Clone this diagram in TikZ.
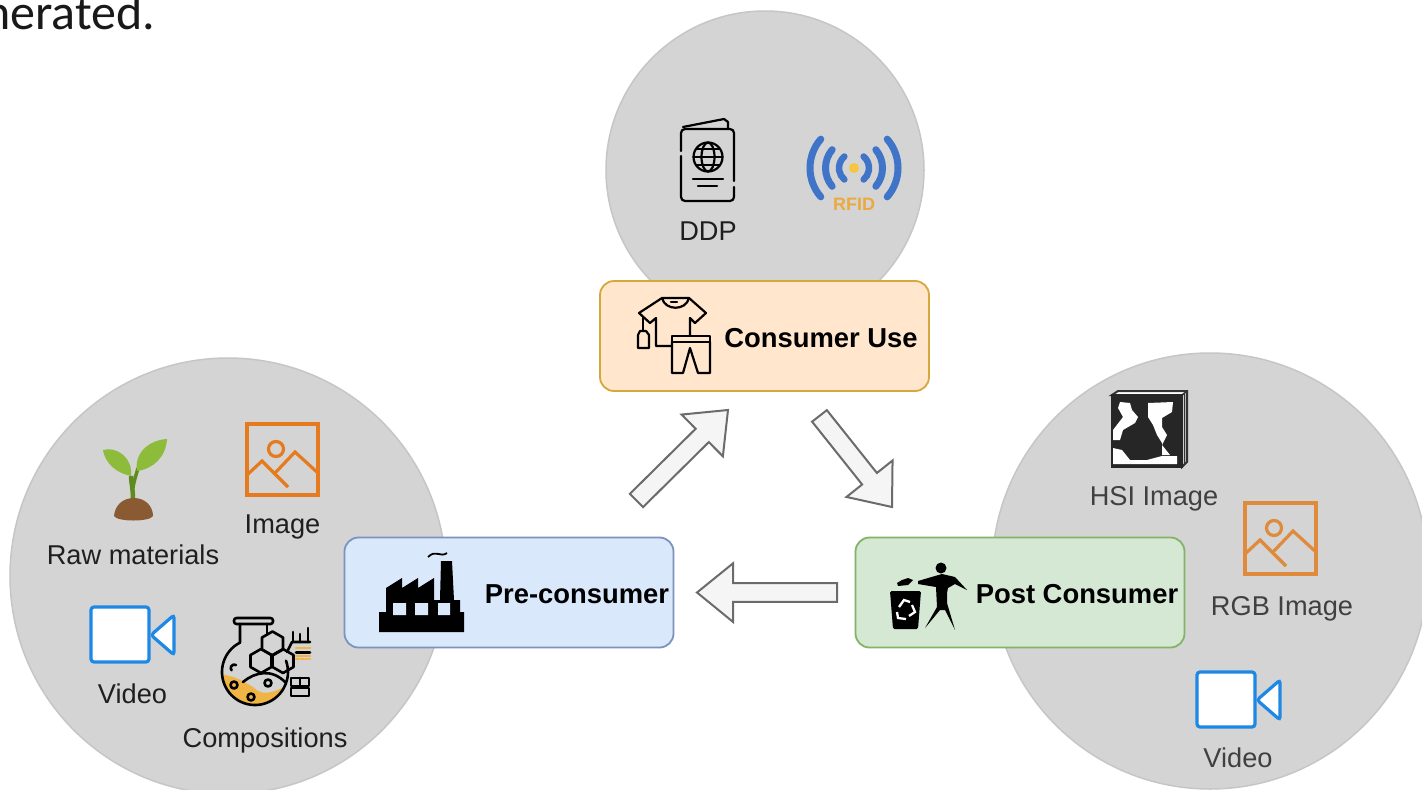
\documentclass[tikz,border=0pt]{standalone}
\usepackage{fontspec}
\setmainfont{Liberation Sans}
\newfontfamily\topfont{Carlito}
\usetikzlibrary{calc}
\definecolor{disc}{HTML}{D4D4D4}
\definecolor{discline}{HTML}{C6C6C2}
\definecolor{imgA}{HTML}{E57A1E}
\definecolor{imgB}{HTML}{E08A3C}
\definecolor{vidblue}{HTML}{1E88E5}
\definecolor{rfidblue}{HTML}{3F74C9}
\definecolor{rfidgold}{HTML}{EBA93F}
\definecolor{rfiddot}{HTML}{F8C540}
\definecolor{liquid}{HTML}{F0B445}
\definecolor{usefill}{RGB}{255,230,204}
\definecolor{useline}{RGB}{214,168,60}
\definecolor{prefill}{RGB}{218,232,252}
\definecolor{preline}{RGB}{124,146,191}
\definecolor{postfill}{RGB}{213,232,212}
\definecolor{postline}{RGB}{130,179,102}
\definecolor{stemgreen}{RGB}{94,140,30}
\definecolor{leafgreen}{RGB}{141,187,58}
\definecolor{soil}{RGB}{138,90,51}
\tikzset{
  discnode/.style={circle,fill=disc,draw=discline,line width=1.5pt,minimum size=#1,inner sep=0pt},
  stage/.style={rectangle,rounded corners=14pt,minimum width=329pt,minimum height=110pt,line width=1.8pt,inner sep=0pt},
  lbl/.style={anchor=base,inner sep=0pt,font=\fontsize{27.2}{27.2}\selectfont,text=#1},
  lbl/.default={black!88},
  stagelbl/.style={anchor=base,inner sep=0pt,font=\fontsize{27.4}{27.4}\selectfont\bfseries,text=black},
  blockarrow/.style={draw=black!58,fill=black!4,line width=2pt,line join=miter,
    to path={let \p1=($(\tikztotarget)-(\tikztostart)$),\n1={veclen(\x1,\y1)},\n2={atan2(\y1,\x1)} in
      ++(\n2+90:9.4pt) -- ++(\n2:\n1-36pt) -- ++(\n2+90:20pt) -- (\tikztotarget)
      -- ++(\n2+219:46.6pt) -- ++(\n2+90:20pt) -- ++(\n2+180:\n1-36pt) -- cycle}},
  icon/.style={line width=2.2pt,line cap=round,line join=round,draw=black}
}
\newcommand{\ImgIcon}[3]{\begin{scope}[shift={(#1,#2)},draw=#3,line width=3.2pt,line join=miter]
  \draw (247,424) rectangle (318,495);
  \draw (276,449) circle (7.5pt);
  \draw (247,475) -- (262,461) -- (288,487);
  \draw (275,473) -- (295,452) -- (318,473);
\end{scope}}
\newcommand{\VidIcon}[2]{\begin{scope}[shift={(#1,#2)},draw=vidblue,fill=white,line width=3.2pt,rounded corners=3pt]
  \draw[fill=white] (91,607) rectangle (149,662);
  \draw[fill=white] (151,635) -- (174,615) -- (174,655) -- cycle;
\end{scope}}
\begin{document}
\begin{tikzpicture}[x=1pt,y=-1pt]
\useasboundingbox (0,0) rectangle (1422,790);
\clip (0,0) rectangle (1422,790);
\fill[white] (0,0) rectangle (1422,790);
\node[anchor=base west,inner sep=0pt,font=\topfont\fontsize{50}{50}\selectfont,text=black!90] (topline) at (-16,29) {nerated.};

% discs
\node[discnode=318pt] (discuse) at (765,170) {};
\node[discnode=436pt] (discpre) at (228,576) {};
\node[discnode=436pt] (discpost) at (1210,571) {};

% stage boxes
\node[stage,fill=usefill,draw=useline] (use) at (764.5,336) {};
\node[stage,fill=prefill,draw=preline] (pre) at (509,592.5) {};
\node[stage,fill=postfill,draw=postline] (post) at (1020,592.5) {};

\node[stagelbl] (uselbl) at (821,347) {Consumer Use};
\node[stagelbl] (prelbl) at (577,603) {Pre-consumer};
\node[stagelbl] (postlbl) at (1077,603) {Post Consumer};

% block arrows
\coordinate (a1s) at (636.5,500.5); \coordinate (a1e) at (728,410);
\coordinate (a2s) at (819.5,416);   \coordinate (a2e) at (892,507);
\coordinate (a3s) at (837,592.5);   \coordinate (a3e) at (697,592.5);
\draw[blockarrow] (a1s) to (a1e);
\draw[blockarrow] (a2s) to (a2e);
\draw[blockarrow] (a3s) to (a3e);

% labels
\node[lbl] (ddp) at (708,240) {DDP};
\node[lbl] (raw) at (133,564) {Raw materials};
\node[lbl] (image) at (282.5,533) {Image};
\node[lbl] (videoa) at (132.5,703) {Video};
\node[lbl] (comp) at (265,747) {Compositions};
\node[lbl=black!75] (hsi) at (1154,505) {HSI Image};
\node[lbl=black!75] (rgb) at (1282,615) {RGB Image};
\node[lbl=black!75] (videob) at (1238,767) {Video};

% image and video icons
\ImgIcon{0}{0}{imgA}
\ImgIcon{998}{79}{imgB}
\VidIcon{0}{0}
\VidIcon{1106}{65}

% passport
\begin{scope}[icon]
  \draw[rounded corners=4pt] (681,151) -- (681,129) -- (734,129) -- (734,181);
  \draw[rounded corners=4pt] (734,187) -- (734,201) -- (681,201) -- (681,156);
  \draw (683,127) -- (724,119) -- (728,122) -- (728,128);
  \draw (708,157) circle (14.5pt);
  \draw (708,157) ellipse (6.5pt and 14.5pt);
  \draw (693.5,157) -- (722.5,157) (696,149) -- (720,149) (696,165) -- (720,165);
  \draw (693,179) -- (723,179) (698,186) -- (717,186);
\end{scope}

% RFID
\fill[rfiddot] (854,168) circle (5pt);
\begin{scope}[draw=rfidblue,line cap=round]
  \draw[line width=6.5pt] (854,168) ++(130:15pt) arc[start angle=130,end angle=230,radius=15pt];
  \draw[line width=6.5pt] (854,168) ++(50:15pt) arc[start angle=50,end angle=-50,radius=15pt];
  \draw[line width=7pt] (854,168) ++(140:28.5pt) arc[start angle=140,end angle=220,radius=28.5pt];
  \draw[line width=7pt] (854,168) ++(40:28.5pt) arc[start angle=40,end angle=-40,radius=28.5pt];
  \draw[line width=7pt] (854,168) ++(139:44pt) arc[start angle=139,end angle=221,radius=44pt];
  \draw[line width=7pt] (854,168) ++(41:44pt) arc[start angle=41,end angle=-41,radius=44pt];
\end{scope}
\node[anchor=base,inner sep=0pt,font=\fontsize{18}{18}\selectfont\bfseries,text=rfidgold] (rfid) at (854,210) {RFID};

% clothes
\begin{scope}[icon,line width=2.2pt]
  \draw (662,298) -- (689,298) -- (706,313) -- (695,323) -- (690,318) -- (690,335);
  \draw (662,298) -- (639,313) -- (650,323) -- (656,318) -- (656,346) -- (672,346);
  \draw (662,298) .. controls (665,311) and (686,311) .. (689,298);
  \draw (671,302) -- (677,302);
  \draw (643,317) -- (643,331);
  \draw (640,331) -- (646,331) -- (649,335) -- (649,348) -- (638,348) -- (638,335) -- cycle;
  \draw (672,336) rectangle (710,342);
  \draw (672,342) -- (672,373) -- (683,373) -- (690,348) -- (698,373) -- (710,373) -- (710,342);
\end{scope}

% factory
\fill[black] (379,632) -- (379,612) -- (386,612) -- (386,588) -- (402,578) -- (402,588) -- (418,578) -- (418,588) -- (434,578) -- (434,600) -- (440,600) -- (441,561) -- (452,561) -- (454,600) -- (460,600) -- (460,612) -- (464,612) -- (464,632) -- cycle;
\fill[prefill] (393,603) rectangle (406,615) (415,603) rectangle (428,615) (438,603) rectangle (450,615);
\draw[line width=1.8pt,black] (428,557) .. controls (436,549) and (440,558) .. (447,553);

% bin and figure
\fill[black,rounded corners=1.5pt] (890,591) -- (921,591) -- (918,629) -- (893,629) -- cycle;
\fill[black] (897,583) -- (902,580) -- (908,578) -- (913,580) -- (908,585) -- (898,586) -- cycle;
\begin{scope}[draw=white,line width=2.3pt]
  \draw (899,607) -- (904,600) -- (910,602);
  \draw (912,605) -- (915,612) -- (909,616);
  \draw (906,619) -- (898,618) -- (897,612);
\end{scope}
\fill[black] (941,568) circle (5.5pt);
\fill[black] (918,581) -- (935,576) -- (942,574) -- (955,577) -- (967,590) -- (955,584) -- (948,588) -- (947,593) -- (947,603) -- (955,630) -- (945,610) -- (940,610) -- (925,628) -- (937,607) -- (936,587) -- (918,584) -- cycle;

% sprout
\draw[line width=4.5pt,stemgreen] (133,500) .. controls (133,488) and (131,482) .. (131,476);
\draw[line width=3.5pt,stemgreen] (133,488) .. controls (134,480) and (136,476) .. (138,468);
\fill[leafgreen] (103,450) .. controls (117,446) and (133,458) .. (131,476) .. controls (116,473) and (105,463) .. (103,450) -- cycle;
\fill[leafgreen] (167,439) .. controls (150,440) and (134,452) .. (137,471) .. controls (153,469) and (166,457) .. (167,439) -- cycle;
\fill[soil] (114,516) .. controls (115,505) and (123,498) .. (134,498) .. controls (145,498) and (153,506) .. (153,516) .. controls (150,522) and (117,522) .. (114,516) -- cycle;

% flask
\begin{scope}
  \clip (255,672) circle (33pt);
  \fill[liquid] (215,674) .. controls (232,674) and (247,682) .. (258,691) .. controls (268,696) and (280,690) .. (295,680) -- (295,710) -- (215,710) -- cycle;
\end{scope}
\begin{scope}[icon,line width=2.6pt]
  \draw (240,624) -- (240,642.6) arc[start angle=117,end angle=380,radius=33pt];
  \draw (267,624) -- (267,634);
  \draw[rounded corners=2.5pt] (234,618) rectangle (273,624);
  \foreach \cx/\cy in {272.5/643.5,261/661,283/661}{
    \draw (\cx,\cy-12) -- (\cx+10.5,\cy-6) -- (\cx+10.5,\cy+6) -- (\cx,\cy+12) -- (\cx-10.5,\cy+6) -- (\cx-10.5,\cy-6) -- cycle;
  }
  \draw (243,682) .. controls (255,672) and (272,668) .. (286,683);
  \draw (234,685) circle (3.5pt) (251,697) circle (3.5pt) (268,683) circle (3.5pt);
  \draw (236,665) arc[start angle=60,end angle=220,radius=3.5pt];
  \draw (287,652) -- (292,642) -- (310,642);
  \draw (293,642) -- (293,632) (300,642) -- (300,634) (308,642) -- (308,628);
  \draw (291,678) rectangle (309,686) (300,678) -- (300,686);
  \draw (291,688) rectangle (309,696);
  \draw[black] (296,652.5) -- (310,652.5);
  \draw[liquid] (296,648) -- (310,648) (296,656) -- (310,656);
  \draw[liquid,dotted] (296,659) -- (310,659);
\end{scope}

% HSI cube
\fill[black!85] (1112,395) rectangle (1182,467);
\draw[black!80,line width=2pt,fill=white] (1112,395) -- (1118,391) -- (1187,391) -- (1187,462) -- (1182,467) -- (1182,395) -- cycle;
\draw[black!80,line width=1.5pt] (1182,395) -- (1187,391) (1184.5,393) -- (1184.5,464);
\draw[black!85,line width=2.5pt] (1112,395) rectangle (1182,467);
\fill[white] (1120,402) -- (1130,403) -- (1132,410) -- (1138,417) -- (1135,423) -- (1123,430) -- (1120,440) -- (1113,440) -- (1113,430) -- (1123,417) -- (1118,408) -- cycle;
\fill[white] (1148,403) -- (1173,402) -- (1172,412) -- (1162,418) -- (1162,427) -- (1167,435) -- (1162,445) -- (1170,455) -- (1162,455) -- (1162,443) -- (1157,435) -- (1153,425) -- (1148,417) -- cycle;
\fill[white] (1113,448) -- (1122,450) -- (1130,460) -- (1147,460) -- (1162,456) -- (1177,456) -- (1177,464) -- (1113,464) -- cycle;
\end{tikzpicture}
\end{document}
